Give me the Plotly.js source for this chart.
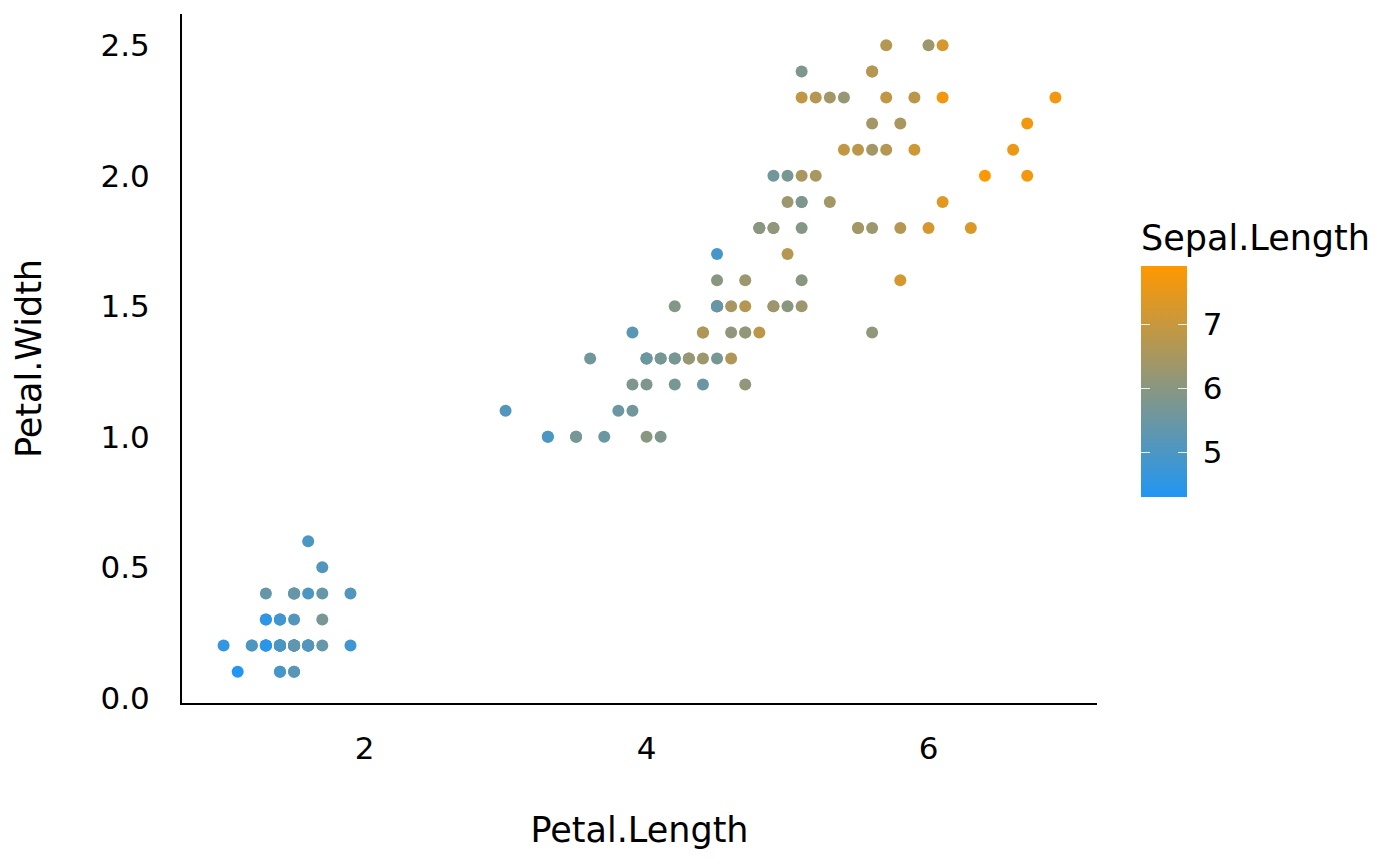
<!DOCTYPE html>
<html>
<head>
<meta charset="utf-8">
<script src="https://cdn.plot.ly/plotly-3.0.1.min.js"></script>
<style>html,body{margin:0;padding:0;background:#fff;}#chart{width:1400px;height:866px;}</style>
</head>
<body>
<div id="chart"></div>
<script>
// iris data
const sepalLength = [5.1,4.9,4.7,4.6,5.0,5.4,4.6,5.0,4.4,4.9,5.4,4.8,4.8,4.3,5.8,5.7,5.4,5.1,5.7,5.1,5.4,5.1,4.6,5.1,4.8,5.0,5.0,5.2,5.2,4.7,4.8,5.4,5.2,5.5,4.9,5.0,5.5,4.9,4.4,5.1,5.0,4.5,4.4,5.0,5.1,4.8,5.1,4.6,5.3,5.0,
7.0,6.4,6.9,5.5,6.5,5.7,6.3,4.9,6.6,5.2,5.0,5.9,6.0,6.1,5.6,6.7,5.6,5.8,6.2,5.6,5.9,6.1,6.3,6.1,6.4,6.6,6.8,6.7,6.0,5.7,5.5,5.5,5.8,6.0,5.4,6.0,6.7,6.3,5.6,5.5,5.5,6.1,5.8,5.0,5.6,5.7,5.7,6.2,5.1,5.7,
6.3,5.8,7.1,6.3,6.5,7.6,4.9,7.3,6.7,7.2,6.5,6.4,6.8,5.7,5.8,6.4,6.5,7.7,7.7,6.0,6.9,5.6,7.7,6.3,6.7,7.2,6.2,6.1,6.4,7.2,7.4,7.9,6.4,6.3,6.1,7.7,6.3,6.4,6.0,6.9,6.7,6.9,5.8,6.8,6.7,6.7,6.3,6.5,6.2,5.9];
const petalLength = [1.4,1.4,1.3,1.5,1.4,1.7,1.4,1.5,1.4,1.5,1.5,1.6,1.4,1.1,1.2,1.5,1.3,1.4,1.7,1.5,1.7,1.5,1.0,1.7,1.9,1.6,1.6,1.5,1.4,1.6,1.6,1.5,1.5,1.4,1.5,1.2,1.3,1.4,1.3,1.5,1.3,1.3,1.3,1.6,1.9,1.4,1.6,1.4,1.5,1.4,
4.7,4.5,4.9,4.0,4.6,4.5,4.7,3.3,4.6,3.9,3.5,4.2,4.0,4.7,3.6,4.4,4.5,4.1,4.5,3.9,4.8,4.0,4.9,4.7,4.3,4.4,4.8,5.0,4.5,3.5,3.8,3.7,3.9,5.1,4.5,4.5,4.7,4.4,4.1,4.0,4.4,4.6,4.0,3.3,4.2,4.2,4.2,4.3,3.0,4.1,
6.0,5.1,5.9,5.6,5.8,6.6,4.5,6.3,5.8,6.1,5.1,5.3,5.5,5.0,5.1,5.3,5.5,6.7,6.9,5.0,5.7,4.9,6.7,4.9,5.7,6.0,4.8,4.9,5.6,5.8,6.1,6.4,5.6,5.1,5.6,6.1,5.6,5.5,4.8,5.4,5.6,5.1,5.1,5.9,5.7,5.2,5.0,5.2,5.4,5.1];
const petalWidth = [0.2,0.2,0.2,0.2,0.2,0.4,0.3,0.2,0.2,0.1,0.2,0.2,0.1,0.1,0.2,0.4,0.4,0.3,0.3,0.3,0.2,0.4,0.2,0.5,0.2,0.2,0.4,0.2,0.2,0.2,0.2,0.4,0.1,0.2,0.2,0.2,0.2,0.1,0.2,0.2,0.3,0.3,0.2,0.6,0.4,0.3,0.2,0.2,0.2,0.2,
1.4,1.5,1.5,1.3,1.5,1.3,1.6,1.0,1.3,1.4,1.0,1.5,1.0,1.4,1.3,1.4,1.5,1.0,1.5,1.1,1.8,1.3,1.5,1.2,1.3,1.4,1.4,1.7,1.5,1.0,1.1,1.0,1.2,1.6,1.5,1.6,1.5,1.3,1.3,1.3,1.2,1.4,1.2,1.0,1.3,1.2,1.3,1.3,1.1,1.3,
2.5,1.9,2.1,1.8,2.2,2.1,1.7,1.8,1.8,2.5,2.0,1.9,2.1,2.0,2.4,2.3,1.8,2.2,2.3,1.5,2.3,2.0,2.0,1.8,2.1,1.8,1.8,1.8,2.1,1.6,1.9,2.0,2.2,1.5,1.4,2.3,2.4,1.8,1.8,2.1,2.4,2.3,1.9,2.3,2.5,2.3,1.9,2.0,2.3,1.8];
const colorTicks = [5, 6, 7];
const lowColor = '#2196F3', highColor = '#FF9800';

const colorscale = [[0, lowColor], [1, highColor]];
const cmin = Math.min(...sepalLength), cmax = Math.max(...sepalLength);
const FONT = 'DejaVu Sans';
const cbX = (1141-182)/915, cbY = (703-497)/689, cbThick = 46, cbTick = 9;
const clear = [[0,'rgba(0,0,0,0)'],[1,'rgba(0,0,0,0)']];
const tickCol = 'rgba(255,255,255,0.85)';

const main = {
 type:'scatter', mode:'markers', x:petalLength, y:petalWidth,
 marker:{size:12, color:sepalLength, colorscale:colorscale, cmin:cmin, cmax:cmax, line:{width:0},
  colorbar:{title:{text:'Sepal.Length', side:'top', font:{family:FONT,size:35,color:'#000'}},
   x:cbX, xanchor:'left', xpad:0, y:cbY, yanchor:'bottom', ypad:0,
   len:276, lenmode:'pixels', thickness:cbThick, thicknessmode:'pixels',
   outlinewidth:0, tickvals:colorTicks, ticks:'outside', ticklen:10, tickcolor:'rgba(0,0,0,0)',
   tickfont:{family:FONT,size:31,color:'#000'}}},
 hoverinfo:'x+y', showlegend:false
};
// helper colorbars that only draw the white tick marks on both edges of the legend bar
function ghostBar(xpix){
 return {
  type:'scatter', mode:'markers', x:[null], y:[null],
  marker:{size:0, color:[cmin], colorscale:clear, cmin:cmin, cmax:cmax,
   colorbar:{x:(xpix-182)/915, xanchor:'left', xpad:0, y:cbY, yanchor:'bottom', ypad:0, len:230, lenmode:'pixels',
    thickness:0.01, thicknessmode:'pixels', outlinewidth:0, tickvals:colorTicks, ticks:'outside', ticklen:cbTick,
    tickcolor:tickCol, tickwidth:1.5, showticklabels:false, bgcolor:'rgba(0,0,0,0)'}},
  hoverinfo:'skip', showlegend:false
 };
}

const layout = {
 width:1400, height:866, paper_bgcolor:'#fff', plot_bgcolor:'#fff',
 margin:{l:182, r:303, t:14, b:163, pad:0},
 font:{family:FONT, color:'#000'},
 xaxis:{range:[0.705,7.195], tick0:0, dtick:2, showgrid:false, zeroline:false, showline:true, linecolor:'#000', linewidth:2,
  ticks:'outside', ticklen:17, tickcolor:'rgba(0,0,0,0)', tickfont:{family:FONT,size:31,color:'#000'},
  title:{text:'Petal.Length', font:{family:FONT,size:35,color:'#000'}, standoff:52}, automargin:false},
 yaxis:{range:[-0.02,2.62], tick0:0, dtick:0.5, tickformat:'.1f', showgrid:false, zeroline:false, showline:true, linecolor:'#000', linewidth:2,
  ticks:'outside', ticklen:24, tickcolor:'rgba(0,0,0,0)', tickfont:{family:FONT,size:31,color:'#000'},
  title:{text:'Petal.Width', font:{family:FONT,size:35,color:'#000'}, standoff:48}, automargin:false}
};
Plotly.newPlot('chart', [main, ghostBar(1141), ghostBar(1141+cbThick-cbTick)], layout, {displayModeBar:false, staticPlot:true});
</script>
</body>
</html>
